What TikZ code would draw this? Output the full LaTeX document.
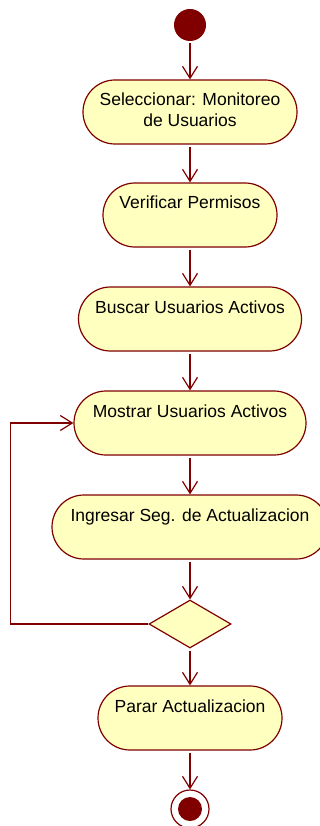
\documentclass[tikz,border=0pt]{standalone}
\usepackage{fontspec}
\setmainfont{Liberation Sans}
\usetikzlibrary{arrows.meta,shapes.geometric}
\definecolor{umlline}{HTML}{800000}
\definecolor{umlfill}{HTML}{FFFFC0}
\tikzset{
  action/.style  ={rectangle, rounded corners=32pt, draw=umlline, fill=umlfill,
                   line width=1.2pt, minimum height=64pt, inner sep=0pt,
                   text height=26pt, text depth=38pt, align=center,
                   font=\fontsize{17.5}{21}\selectfont},
  twoline/.style ={text height=47pt, text depth=17pt},
  decision/.style={diamond, draw=umlline, fill=umlfill, line width=1.2pt,
                   minimum width=82pt, minimum height=48pt, inner sep=0pt},
  initial/.style ={circle, fill=umlline, minimum size=32pt, inner sep=0pt},
  final/.style   ={circle, draw=umlline, fill=white, line width=1.2pt,
                   minimum size=38pt, inner sep=0pt,
                   path picture={\fill[umlline] (path picture bounding box.center) circle (12pt);}},
  % one control flow between two activity nodes
  flow/.style    ={draw=umlline, line width=1.2pt, shorten <=2pt,
                   -{Straight Barb[length=12pt,width=15pt,line width=1.2pt]}},
}
\begin{document}
\begin{tikzpicture}[x=1pt,y=-1pt]
\useasboundingbox (0,0) rectangle (320,826);
\node[initial] (start) at (190,25) {};
\node[action, twoline, minimum width=214pt] (sel) at (190,112) {Seleccionar: Monitoreo\\de Usuarios};
\node[action, minimum width=174pt] (verif)    at (190,215) {Verificar Permisos};
\node[action, minimum width=223pt] (buscar)   at (190,319) {Buscar Usuarios Activos};
\node[action, minimum width=232pt] (mostrar)  at (190,423) {Mostrar Usuarios Activos};
\node[action, minimum width=276pt] (ingresar) at (190,527) {Ingresar Seg. de Actualizacion};
\node[decision] (dec) at (190,624) {};
\node[action, minimum width=184pt] (parar)    at (190,718) {Parar Actualizacion};
\node[final] (stop) at (190,809) {};
\foreach \a/\b in {start/sel, sel/verif, verif/buscar, buscar/mostrar,
                   mostrar/ingresar, ingresar/dec, dec/parar, parar/stop}
  {\draw[flow] (\a) -- (\b);}
% loop back from the decision
\draw[flow, shorten <=0pt] (dec.west) -- ++(-138,0) |- (mostrar.west);
\end{tikzpicture}
\end{document}
